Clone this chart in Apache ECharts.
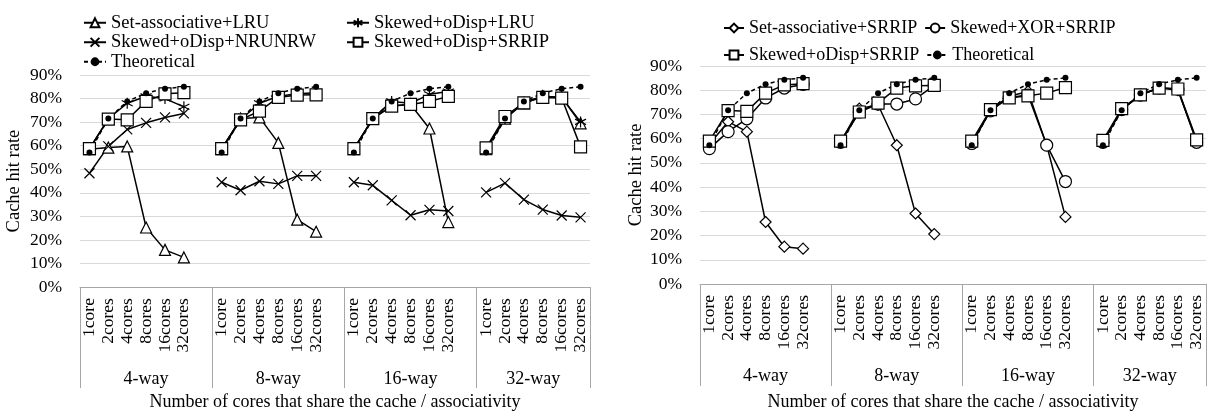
<!DOCTYPE html>
<html>
<head>
<meta charset="utf-8">
<script src="https://cdn.jsdelivr.net/npm/echarts@6/dist/echarts.min.js"></script>
<style>
html,body{margin:0;padding:0;background:#fff;}
#chart{width:1209px;height:416px;}
</style>
</head>
<body>
<div id="chart"></div>
<script>
// ---- data ----
const cores = ['1core', '2cores', '4cores', '8cores', '16cores', '32cores'];
const ways = ['4-way', '8-way', '16-way', '32-way'];
const yTicks = [0, 10, 20, 30, 40, 50, 60, 70, 80, 90];

// left chart (values in %, one array per associativity group)
const setAssocLRU = [
  [58.5, 59.2, 59.7, 25.3, 15.8, 12.6],
  [58.5, 71.5, 72.0, 61.2, 28.6, 23.5],
  [58.5, 71.5, 77.0, 77.5, 67.3, 27.6],
  [58.5, 71.5, 78.0, 81.0, 80.5, 69.5]
];
const skewedODispLRU = [
  [58.5, 71.5, 78.0, 81.0, 80.0, 76.5],
  [58.5, 71.0, 78.0, 81.0, 82.0, 82.5],
  [58.5, 71.5, 78.8, 78.0, 81.8, 83.0],
  [58.5, 71.5, 78.5, 81.0, 80.5, 70.1]
];
const skewedODispNRUNRW = [
  [48.3, 59.7, 66.9, 69.7, 72.0, 73.7],
  [44.5, 41.1, 44.9, 43.8, 47.2, 47.2],
  [44.5, 43.2, 36.8, 30.5, 32.8, 32.3],
  [40.2, 44.1, 37.1, 32.9, 30.4, 29.6]
];
const skewedODispSRRIP_L = [
  [58.8, 71.3, 71.0, 78.8, 82.0, 82.5],
  [58.8, 71.0, 74.7, 80.5, 81.5, 81.6],
  [58.8, 71.5, 76.8, 77.5, 78.8, 80.9],
  [59.1, 72.4, 78.2, 80.5, 80.2, 59.5]
];
const theoretical_L = [
  [57.1, 71.5, 78.8, 82.3, 84.2, 85.0],
  [57.1, 71.5, 78.8, 82.3, 84.2, 85.0],
  [57.1, 71.5, 78.8, 82.3, 84.2, 85.0],
  [57.1, 71.5, 78.8, 82.3, 84.2, 85.0]
];

// right chart
const setAssocSRRIP = [
  [57.7, 67.0, 62.9, 25.6, 15.4, 14.6],
  [58.5, 72.4, 74.0, 57.3, 29.1, 20.6],
  [58.0, 72.0, 77.5, 79.5, 57.3, 27.7],
  [58.5, 72.0, 78.0, 81.0, 80.0, 59.0]
];
const skewedXORSRRIP = [
  [55.9, 62.9, 68.2, 76.8, 80.9, 82.4],
  [58.5, 71.0, 74.3, 74.3, 76.4, 82.0],
  [58.0, 71.5, 77.0, 78.0, 57.3, 42.3],
  [58.5, 72.0, 78.0, 81.0, 80.5, 58.5]
];
const skewedODispSRRIP_R = [
  [59.0, 71.6, 71.3, 78.8, 82.2, 82.7],
  [59.0, 71.0, 74.7, 80.9, 81.8, 82.0],
  [59.0, 72.0, 76.8, 77.7, 78.8, 81.1],
  [59.3, 72.4, 78.1, 80.9, 80.5, 59.5]
];
const theoretical_R = [
  [57.3, 71.7, 78.8, 82.5, 84.3, 85.1],
  [57.3, 71.7, 78.8, 82.5, 84.3, 85.1],
  [57.3, 71.7, 78.8, 82.5, 84.3, 85.1],
  [57.3, 71.7, 78.8, 82.5, 84.3, 85.1]
];

// ---- build category slots (a blank slot separates groups) ----
const slotLabels = [];
ways.forEach((w, g) => {
  cores.forEach(c => slotLabels.push(c));
  if (g < ways.length - 1) slotLabels.push('');
});
function flat(groups) {
  const out = [];
  groups.forEach((arr, g) => {
    arr.forEach(v => out.push(v));
    if (g < groups.length - 1) out.push(null);
  });
  return out;
}
// half-slot axis for group labels and dividers
const halfCount = slotLabels.length * 2 + 1;
const halfLabels = new Array(halfCount).fill('');
const dividerIdx = new Set([0]);
let pos = 0;
ways.forEach((w, g) => {
  const n = cores.length + (g < ways.length - 1 ? 1 : 0);
  halfLabels[pos + n] = w;
  pos += 2 * n;
  dividerIdx.add(pos);
});

const FONT = 'Liberation Serif';
const TXT = '#000';
const BOX = '#a6a6a6';

const asterisk = 'path://M5,0L5,10M0.7,2.5L9.3,7.5M0.7,7.5L9.3,2.5';
const xMark = 'path://M0,0L10,10M10,0L0,10';

function lineSeries(name, data, gi, symbol, size, dashed) {
  return {
    name: name, type: 'line', xAxisIndex: gi * 2, yAxisIndex: gi,
    data: flat(data), connectNulls: false,
    symbol: symbol, symbolSize: size, showAllSymbol: true,
    lineStyle: { color: '#000', width: 1.5, type: dashed ? [4, 3] : 'solid' },
    itemStyle: dashed ? { color: '#000', borderColor: '#000', borderWidth: 0 }
                      : { color: '#fff', borderColor: '#000', borderWidth: 1.2 },
    emphasis: { disabled: true },
    animation: false
  };
}

function xAxes(gi, tickLen, labelMargin, nameGap) {
  return [
    {
      type: 'category', gridIndex: gi, data: slotLabels, boundaryGap: true, position: 'bottom',
      axisLine: { show: true, lineStyle: { color: BOX, width: 1 } },
      axisTick: { show: false },
      axisLabel: { interval: 0, rotate: 90, margin: 11, fontSize: 17.5, fontFamily: FONT, color: TXT }
    },
    {
      type: 'category', gridIndex: gi, data: halfLabels, boundaryGap: false, position: 'bottom',
      axisLine: { show: false },
      axisTick: { show: true, length: tickLen, interval: (i) => dividerIdx.has(i),
                  lineStyle: { color: BOX, width: 1 } },
      axisLabel: { interval: 0, margin: labelMargin, fontSize: 18, fontFamily: FONT, color: TXT },
      name: 'Number of cores that share the cache / associativity',
      nameLocation: 'middle', nameGap: nameGap,
      nameTextStyle: { fontSize: 18, fontFamily: FONT, color: TXT }
    }
  ];
}

function yAxis(gi, nameGap) {
  return {
    type: 'value', gridIndex: gi, min: yTicks[0], max: yTicks[yTicks.length - 1], interval: 10,
    axisLine: { show: false }, axisTick: { show: false },
    splitLine: { lineStyle: { color: '#d9d9d9', width: 1 } },
    axisLabel: { formatter: '{value}%', margin: 18, fontSize: 17.5, fontFamily: FONT, color: TXT },
    name: 'Cache hit rate', nameLocation: 'middle', nameGap: nameGap,
    nameTextStyle: { fontSize: 18.5, fontFamily: FONT, color: TXT }
  };
}

const chart = echarts.init(document.getElementById('chart'), null, { renderer: 'canvas' });
chart.setOption({
  animation: false,
  backgroundColor: '#fff',
  grid: [
    { left: 80, top: 75, width: 510, height: 221 },
    { left: 700, top: 66, width: 509, height: 220 }
  ],
  legend: [
    {
      left: 78, top: 8, width: 530, orient: 'horizontal', itemGap: 0,
      itemWidth: 22, itemHeight: 11,
      data: ['Set-associative+LRU', 'Skewed+oDisp+LRU', 'Skewed+oDisp+NRUNRW', 'Skewed+oDisp+SRRIP', 'Theoretical'],
      textStyle: { fontSize: 18.5, fontFamily: FONT, color: TXT, width: 235, lineHeight: 19.5 },
      selectedMode: false
    },
    {
      left: 718, top: 13, width: 450, orient: 'horizontal', itemGap: 7,
      itemWidth: 20, itemHeight: 11,
      data: ['Set-associative+SRRIP', 'Skewed+XOR+SRRIP', 'Skewed+oDisp+SRRIP', 'Theoretical'],
      textStyle: { fontSize: 18, fontFamily: FONT, color: TXT, lineHeight: 20 },
      selectedMode: false
    }
  ],
  xAxis: [].concat(xAxes(0, 101, 83, 101), xAxes(1, 102, 83, 109)),
  yAxis: [yAxis(0, 56), yAxis(1, 53)],
  series: [
    lineSeries('Set-associative+LRU', setAssocLRU, 0, 'triangle', 11, false),
    lineSeries('Skewed+oDisp+LRU', skewedODispLRU, 0, asterisk, 11, false),
    lineSeries('Skewed+oDisp+NRUNRW', skewedODispNRUNRW, 0, xMark, 10, false),
    lineSeries('Skewed+oDisp+SRRIP', skewedODispSRRIP_L, 0, 'rect', 12, false),
    lineSeries('Theoretical', theoretical_L, 0, 'circle', 6, true),
    lineSeries('Set-associative+SRRIP', setAssocSRRIP, 1, 'diamond', 11, false),
    lineSeries('Skewed+XOR+SRRIP', skewedXORSRRIP, 1, 'circle', 12, false),
    lineSeries('Skewed+oDisp+SRRIP', skewedODispSRRIP_R, 1, 'rect', 12, false),
    lineSeries('Theoretical', theoretical_R, 1, 'circle', 6, true)
  ]
});
</script>
</body>
</html>
